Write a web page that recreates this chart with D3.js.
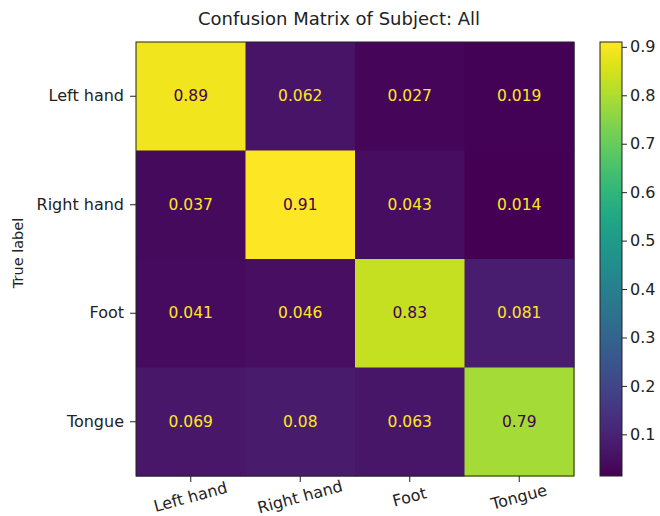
<!DOCTYPE html>
<html><head><meta charset="utf-8">
<script src="https://cdn.jsdelivr.net/npm/d3@7"></script>
<style>body{margin:0;background:#fff}text{font-family:"DejaVu Sans",sans-serif}</style>
</head><body><svg id="c" width="660" height="516"></svg>
<script>
const labels = ["Left hand","Right hand","Foot","Tongue"];
const row0 = [0.89, 0.062, 0.027, 0.019];
const row1 = [0.037, 0.91, 0.043, 0.014];
const row2 = [0.041, 0.046, 0.83, 0.081];
const row3 = [0.069, 0.08, 0.063, 0.79];
const matrix = [row0,row1,row2,row3];
const cbTicks = [0.1,0.2,0.3,0.4,0.5,0.6,0.7,0.8,0.9];
const title = "Confusion Matrix of Subject: All";
const yTitle = "True label";

const svg = d3.select("#c");
const L=136,R=574,T=42,B=476;
const FS=16;
const x = d3.scaleBand().domain(labels).range([L,R]);
const y = d3.scaleBand().domain(labels).range([T,B]);
const flat = matrix.flat();
const vmin = d3.min(flat), vmax = d3.max(flat);
const color = d3.scaleSequential(d3.interpolateViridis).domain([vmin,vmax]);
const cells = [];
matrix.forEach((r,i)=>r.forEach((v,j)=>cells.push({r:labels[i],c:labels[j],v})));
svg.selectAll("rect.cell").data(cells).enter().append("rect")
  .attr("x",d=>x(d.c)).attr("y",d=>y(d.r))
  .attr("width",x.bandwidth()+0.5).attr("height",y.bandwidth()+0.5)
  .attr("fill",d=>color(d.v));
const thresh = (vmin+vmax)/2;
svg.selectAll("text.val").data(cells).enter().append("text")
  .attr("x",d=>x(d.c)+x.bandwidth()/2).attr("y",d=>y(d.r)+y.bandwidth()/2)
  .attr("text-anchor","middle").attr("dominant-baseline","central")
  .attr("font-size",15.5)
  .attr("fill",d=>d.v<thresh?color(vmax):color(vmin))
  .text(d=>d.v);
svg.append("rect").attr("x",L).attr("y",T).attr("width",R-L).attr("height",B-T)
  .attr("fill","none").attr("stroke","#222").attr("stroke-width",1);

const xa = svg.append("g").attr("transform",`translate(0,${B})`)
  .call(d3.axisBottom(x).tickSize(6).tickPadding(6));
xa.select(".domain").remove();
xa.selectAll("text").attr("font-size",FS).attr("fill","#222")
  .attr("text-anchor","middle")
  .attr("transform","rotate(-15,0,22)")
  .attr("dy","0.9em");
xa.selectAll("line").attr("stroke","#222");
const ya = svg.append("g").attr("transform",`translate(${L},0)`)
  .call(d3.axisLeft(y).tickSize(6).tickPadding(6));
ya.select(".domain").remove();
ya.selectAll("text").attr("font-size",FS).attr("fill","#222");
ya.selectAll("line").attr("stroke","#222");

svg.append("text").attr("x",339).attr("y",25).attr("text-anchor","middle")
  .attr("font-size",18).attr("fill","#222").text(title);
svg.append("text").attr("transform",`translate(23,253) rotate(-90)`)
  .attr("text-anchor","middle").attr("font-size",14.5).attr("fill","#222").text(yTitle);

// colorbar
const cbX=600, cbW=22;
const cy = d3.scaleLinear().domain([vmin,vmax]).range([B,T]);
const defs = svg.append("defs");
const grad = defs.append("linearGradient").attr("id","g").attr("x1",0).attr("y1",1).attr("x2",0).attr("y2",0);
d3.range(0,1.0001,0.05).forEach(t=>grad.append("stop").attr("offset",t).attr("stop-color",d3.interpolateViridis(t)));
svg.append("rect").attr("x",cbX).attr("y",T).attr("width",cbW).attr("height",B-T)
  .attr("fill","url(#g)").attr("stroke","#222").attr("stroke-width",1);
const ca = svg.append("g").attr("transform",`translate(${cbX+cbW},0)`)
  .call(d3.axisRight(cy).tickValues(cbTicks).tickFormat(d3.format(".1f")).tickSize(5).tickPadding(3));
ca.select(".domain").remove();
ca.selectAll("text").attr("font-size",FS).attr("fill","#222");
ca.selectAll("line").attr("stroke","#222");
</script></body></html>
